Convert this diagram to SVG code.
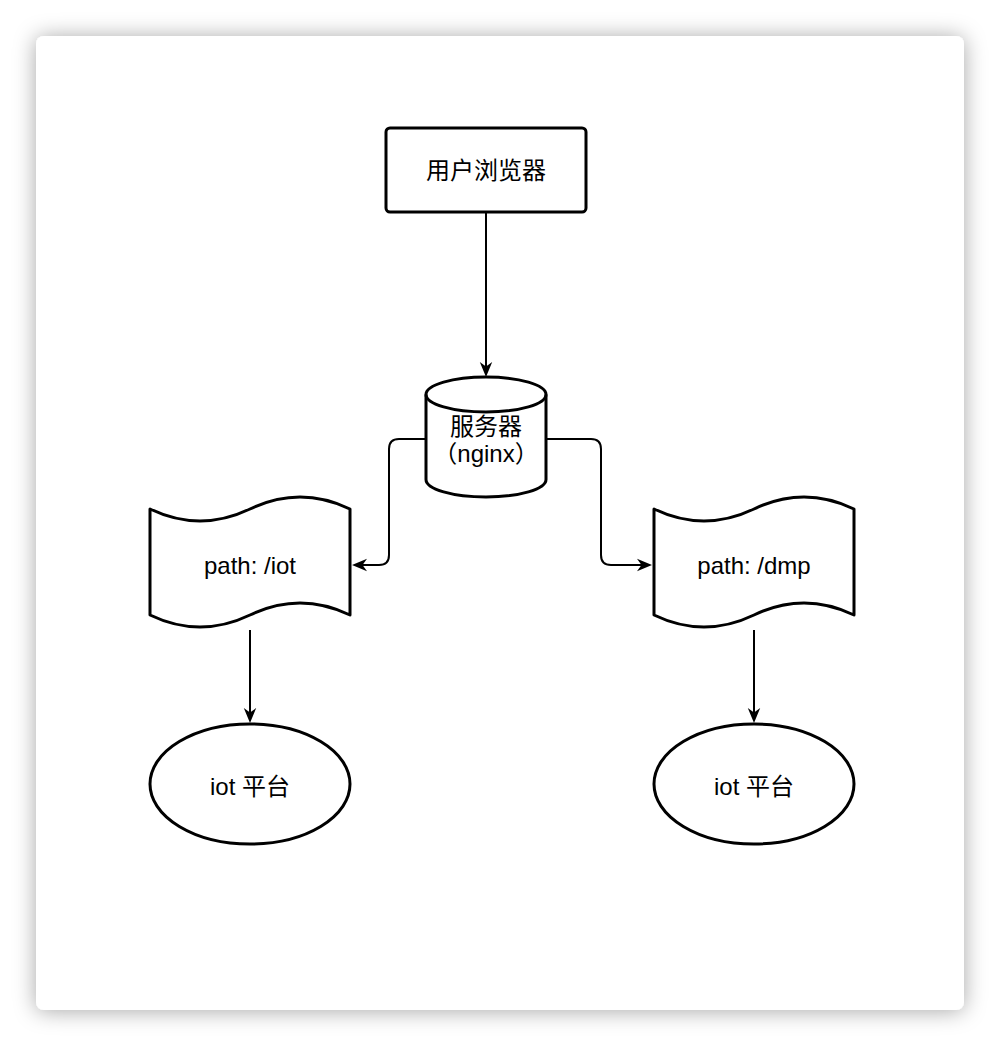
<svg xmlns="http://www.w3.org/2000/svg" width="1000" height="1046" viewBox="0 0 1000 1046">
<defs>
<filter id="shadow" x="-10%" y="-10%" width="120%" height="120%">
<feDropShadow dx="0" dy="1" stdDeviation="11" flood-color="#000" flood-opacity="0.35"/>
</filter>
<marker id="arr" markerWidth="18" markerHeight="14" refX="9" refY="7" orient="auto" markerUnits="userSpaceOnUse">
<path d="M15,7 L0,0.8 L4.5,7 L0,13.2 Z" fill="#000"/>
</marker>
</defs>
<style>
.shape{fill:#fff;stroke:#000;stroke-width:3;stroke-linejoin:round}
.edge{fill:none;stroke:#000;stroke-width:2}
.lbl{font-family:"Liberation Sans","Noto Sans CJK SC",sans-serif;font-size:24px;fill:#000;text-anchor:middle}
</style>
<rect x="0" y="0" width="1000" height="1046" fill="#fff"/>
<rect x="36" y="36" width="928" height="974" rx="8" fill="#fff" filter="url(#shadow)"/>

<g id="connectors">
<path class="edge" d="M486,213 L486,371" marker-end="url(#arr)"/>
<path class="edge" d="M426,439 L399,439 Q389,439 389,449 L389,555 Q389,565 379,565 L358,565" marker-end="url(#arr)"/>
<path class="edge" d="M546,439 L591,439 Q601,439 601,449 L601,555 Q601,565 611,565 L646,565" marker-end="url(#arr)"/>
<path class="edge" d="M250,630 L250,717" marker-end="url(#arr)"/>
<path class="edge" d="M754,630 L754,717" marker-end="url(#arr)"/>
</g>

<g id="browser">
<rect class="shape" x="386" y="128" width="200" height="84" rx="4"/>
<text class="lbl" x="486" y="179">用户浏览器</text>
</g>

<g id="server">
<path class="shape" d="M426,394.5 A60,17.5 0 0 1 546,394.5 L546,479.5 A60,17.5 0 0 1 426,479.5 Z"/>
<path class="shape" style="fill:none" d="M426,394.5 A60,17.5 0 0 0 546,394.5"/>
<text class="lbl" x="486" y="435">服务器</text>
<text class="lbl" x="486" y="462">（nginx）</text>
</g>

<g id="path-iot">
<path class="shape" d="M150,509 Q200,533 250,509 Q300,485 350,509 L350,615 Q300,591 250,615 Q200,639 150,615 Z"/>
<text class="lbl" x="250" y="574">path: /iot</text>
</g>

<g id="path-dmp">
<path class="shape" d="M654,509 Q704,533 754,509 Q804,485 854,509 L854,615 Q804,591 754,615 Q704,639 654,615 Z"/>
<text class="lbl" x="754" y="574">path: /dmp</text>
</g>

<g id="iot-left">
<ellipse class="shape" cx="250" cy="784" rx="100" ry="60"/>
<text class="lbl" x="250" y="795">iot 平台</text>
</g>

<g id="iot-right">
<ellipse class="shape" cx="754" cy="784" rx="100" ry="60"/>
<text class="lbl" x="754" y="795">iot 平台</text>
</g>
</svg>
